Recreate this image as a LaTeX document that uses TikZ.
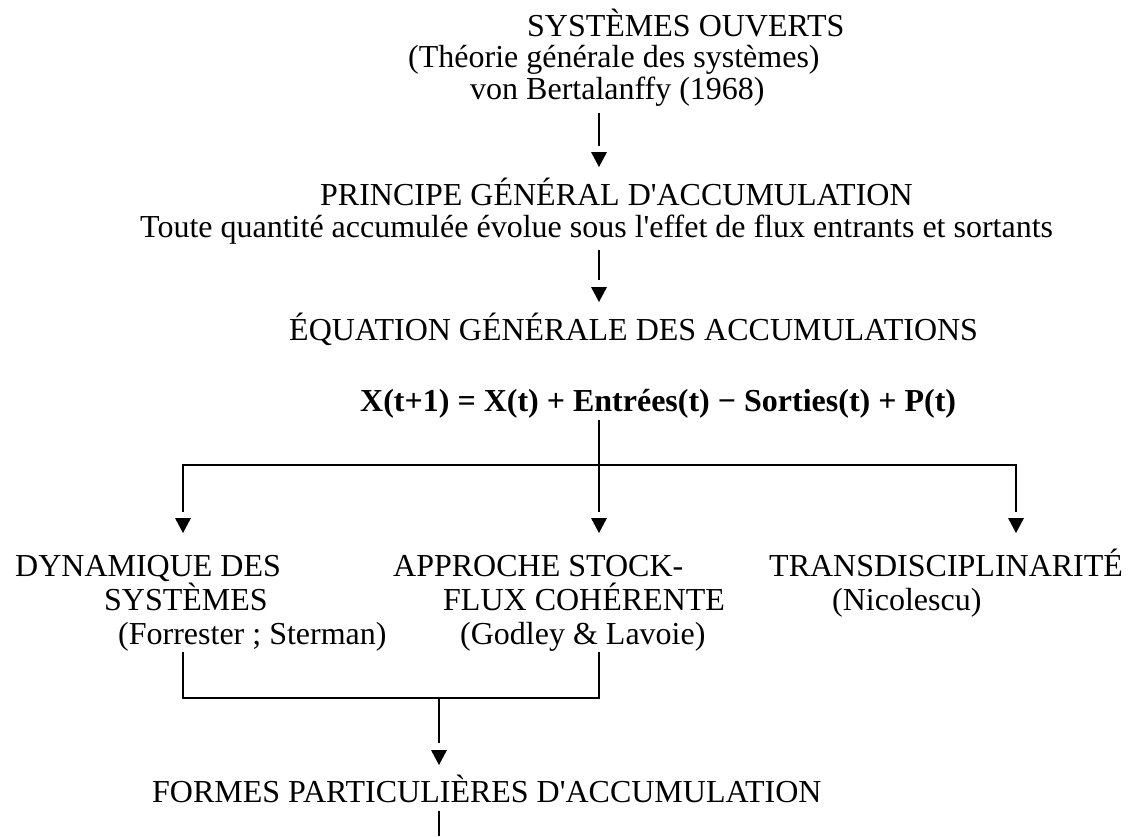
\documentclass[tikz,border=0pt]{standalone}
\usepackage{fontspec}
\setmainfont{Liberation Serif}
\begin{document}
\begin{tikzpicture}[x=1pt,y=-1pt,
  txt/.style={anchor=base west,inner sep=0pt,font=\fontsize{32}{38}\selectfont},
  boldtxt/.style={txt,font=\fontsize{32}{38}\selectfont\bfseries},
  link/.style={line width=1.5pt},
  downtip/.pic={\fill (-8,0) -- (8,0) -- (0,15) -- cycle;}]
\useasboundingbox (0,0) rectangle (1129,836);
% texts
\node[txt] (so) at (527,36) {SYSTÈMES OUVERTS};
\node[txt] (tgs) at (408,67) {(Théorie générale des systèmes)};
\node[txt] (vb) at (470,99) {von Bertalanffy (1968)};
\node[txt] (pga) at (320,205) {PRINCIPE GÉNÉRAL D{\textquotesingle}ACCUMULATION};
\node[txt] (toute) at (140,237) {Toute quantité accumulée évolue sous l{\textquotesingle}effet de flux entrants et sortants};
\node[txt] (ega) at (289,340) {ÉQUATION GÉNÉRALE DES ACCUMULATIONS};
\node[boldtxt] (eq) at (360,411) {X(t+1) = X(t) + Entrées(t) − Sorties(t) + P(t)};
\node[txt] (ds1) at (15,576) {DYNAMIQUE DES};
\node[txt] (ds2) at (104,610) {SYSTÈMES};
\node[txt] (ds3) at (118,644) {(Forrester ; Sterman)};
\node[txt] (sf1) at (393,576) {APPROCHE STOCK-};
\node[txt] (sf2) at (443,610) {FLUX COHÉRENTE};
\node[txt] (sf3) at (460,644) {(Godley \& Lavoie)};
\node[txt] (tr1) at (769,576) {TRANSDISCIPLINARITÉ};
\node[txt] (tr2) at (832,610) {(Nicolescu)};
\node[txt] (fpa) at (152,802) {FORMES PARTICULIÈRES D{\textquotesingle}ACCUMULATION};
% arrow tips and junctions
\coordinate (a1) at (599,152);
\coordinate (a2) at (599,287);
\coordinate (j) at (599,465);
\coordinate (aL) at (183,518);
\coordinate (aM) at (599,518);
\coordinate (aR) at (1016,518);
\coordinate (jb) at (439,698);
\coordinate (aB) at (439,750);
\coordinate (bot) at (439,836);
% connectors
\draw[link,shorten <=7pt,shorten >=6pt] (vb.south -| a1) -- (a1);
\pic at (a1) {downtip};
\draw[link,shorten <=6pt,shorten >=7pt] (toute.south -| a2) -- (a2);
\pic at (a2) {downtip};
\draw[link,shorten <=2pt] (eq.south -| j) -- (j);
\draw[link,shorten >=6pt] (j) -- (aM);
\draw[link,shorten >=6pt] (j) -| (aL);
\draw[link,shorten >=6pt] (j) -| (aR);
\pic at (aL) {downtip};
\pic at (aM) {downtip};
\pic at (aR) {downtip};
\draw[link,shorten <=1pt,shorten >=1pt] (ds3.south -| aL) |- (jb -| aM) -- (sf3.south -| aM);
\draw[link,shorten >=7pt] (jb) -- (aB);
\pic at (aB) {downtip};
\draw[link,shorten <=8pt] (fpa.south -| jb) -- (bot);
\end{tikzpicture}
\end{document}
